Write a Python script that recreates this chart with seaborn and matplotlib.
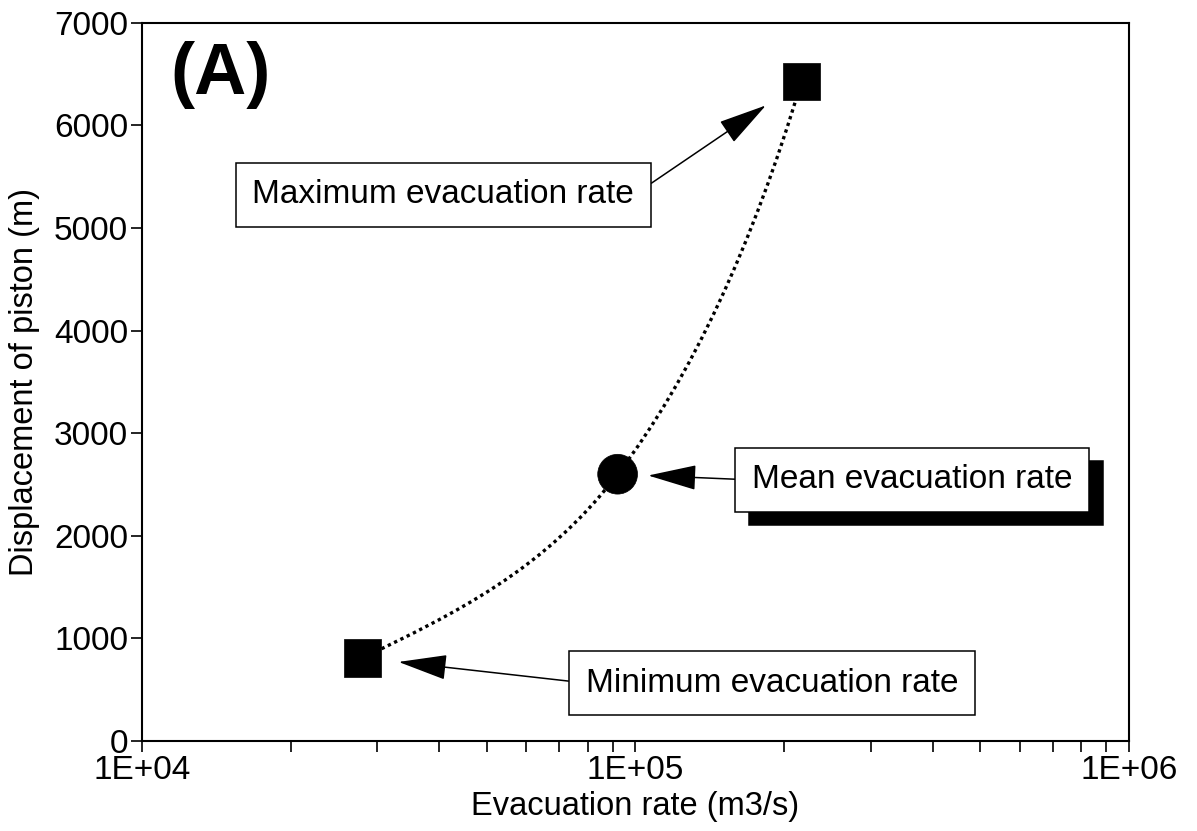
import numpy as np
import pandas as pd
import matplotlib
matplotlib.use("Agg")
import matplotlib.pyplot as plt
from matplotlib.path import Path
from matplotlib.patches import PathPatch
from matplotlib.transforms import ScaledTranslation
import seaborn as sns

# Piston displacement at three characteristic evacuation rates
labels = ["Minimum evacuation rate", "Mean evacuation rate", "Maximum evacuation rate"]
kinds = ["Minimum", "Mean", "Maximum"]
evac_rate = [2.8e4, 9.2e4, 2.17e5]          # m3/s
displacement = [810, 2600, 6430]            # m

# Annotation box centres (data coordinates)
box_rate = [1.89e5, 3.64e5, 4.08e4]
box_disp = [565, 2544, 5322]

x_ticks = [1e4, 1e5, 1e6]
x_tick_labels = ["1E+04", "1E+05", "1E+06"]
y_ticks = [0, 1000, 2000, 3000, 4000, 5000, 6000, 7000]

df = pd.DataFrame({"rate": evac_rate, "disp": displacement, "kind": kinds})

sns.set_theme(style="white")
plt.rcParams["font.family"] = ["Liberation Sans", "DejaVu Sans"]

fig = plt.figure(figsize=(11.97, 8.31), dpi=100)
ax = fig.add_axes([0.1186, 0.1083, 0.8246, 0.8644])
ax.set_xscale("log")

# Smooth dotted curve through the three points (cubic Bezier segments,
# Catmull-Rom style tangents computed in log-x space)
lx = np.log10(evac_rate)
yy = np.asarray(displacement, dtype=float)
P = np.column_stack([lx, yy])
T1 = (P[2] - P[0]) / 2.0
T0 = 2 * (P[1] - P[0]) - T1
T2 = 2 * (P[2] - P[1]) - T1
T0 = 0.5 * (T0 + (P[1] - P[0]))
tang = [T0, T1, T2]
verts = [P[0]]
codes = [Path.MOVETO]
for i in range(2):
    c1 = P[i] + tang[i] / 3.0
    c2 = P[i + 1] - tang[i + 1] / 3.0
    verts += [c1, c2, P[i + 1]]
    codes += [Path.CURVE4] * 3
verts = np.array(verts)
verts[:, 0] = 10 ** verts[:, 0]
curve = PathPatch(Path(verts, codes), facecolor="none", edgecolor="black",
                  lw=2.4, linestyle=(0, (1, 1.1)), zorder=2)
ax.add_patch(curve)

sns.scatterplot(data=df, x="rate", y="disp", style="kind", hue="kind",
                markers={"Minimum": "s", "Mean": "o", "Maximum": "s"},
                palette={"Minimum": "black", "Mean": "black", "Maximum": "black"},
                size="kind", sizes={"Minimum": 720, "Mean": 820, "Maximum": 720},
                edgecolor="black", linewidth=0.5, legend=False, zorder=3, ax=ax)

ax.set_xlim(1e4, 1e6)
ax.set_ylim(0, 7000)
ax.set_xticks(x_ticks)
ax.set_xticklabels(x_tick_labels)
ax.set_yticks(y_ticks)
ax.set_yticklabels([str(v) for v in y_ticks])
ax.xaxis.set_minor_locator(matplotlib.ticker.LogLocator(base=10, subs=np.arange(2, 10)))
ax.xaxis.set_minor_formatter(matplotlib.ticker.NullFormatter())

ax.tick_params(axis="both", which="both", direction="out", length=8, width=1.2,
               color="black", labelsize=24, labelcolor="black", pad=2,
               bottom=True, left=True, top=False, right=False)
ax.tick_params(axis="x", which="both", pad=2)

for s in ax.spines.values():
    s.set_visible(True)
    s.set_color("black")
    s.set_linewidth(1.5)

ax.set_xlabel("Evacuation rate (m3/s)", fontsize=23.5, color="black", labelpad=4)
ax.set_ylabel("Displacement of piston (m)", fontsize=23.5, color="black", labelpad=10)

ax.text(0.029, 0.975, "(A)", transform=ax.transAxes, fontsize=52,
        fontweight="bold", ha="left", va="top", color="black")

# Annotations with arrows
relpos = [(0, 0.5), (0, 0.5), (1, 0.5)]
shrink = [26, 22, 31]
box_style = dict(boxstyle="square,pad=0.5", fc="white", ec="black", lw=1.1)

# drop shadow behind the mean-rate box
shadow_tr = ax.transData + ScaledTranslation(0.14, -0.13, fig.dpi_scale_trans)
ax.text(box_rate[1], box_disp[1], labels[1], transform=shadow_tr, fontsize=24,
        ha="center", va="center", color="black", zorder=4,
        bbox=dict(boxstyle="square,pad=0.5", fc="black", ec="black", lw=1.1))

for i in range(3):
    ax.annotate(labels[i], xy=(evac_rate[i], displacement[i]),
                xytext=(box_rate[i], box_disp[i]), textcoords="data",
                fontsize=24, ha="center", va="center", color="black",
                bbox=box_style, zorder=5,
                arrowprops=dict(arrowstyle="-|>,head_length=3.1,head_width=0.8",
                                mutation_scale=10, lw=1.1, color="black",
                                relpos=relpos[i], shrinkA=0,
                                shrinkB=shrink[i]))

fig.savefig("out.png", dpi=100, facecolor="white")
